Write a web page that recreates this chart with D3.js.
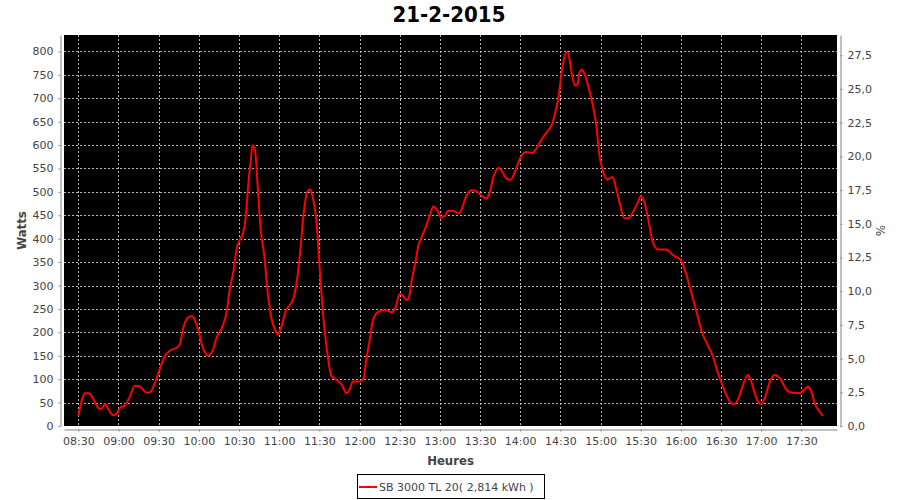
<!DOCTYPE html>
<html>
<head>
<meta charset="utf-8">
<script src="https://cdn.jsdelivr.net/npm/d3@7"></script>
<style>
  body { margin: 0; background: #fff; }
  text { font-family: "DejaVu Sans", sans-serif; }
  .cond { font-family: "DejaVu Sans Condensed", "DejaVu Sans", sans-serif; font-stretch: condensed; }
</style>
</head>
<body>
<div id="chart"></div>
<script>
var chartTitle = "21-2-2015";
var seriesName = "SB 3000 TL 20( 2,814 kWh )";
var times = ["08:30","08:33","08:35","08:38","08:41","08:45","08:47","08:50","08:52","08:56",
	"08:59","09:01","09:05","09:09","09:12","09:16","09:21","09:24","09:27","09:31",
	"09:35","09:39","09:44","09:46","09:48","09:52","09:55","09:57","10:00","10:02",
	"10:05","10:07","10:11","10:13","10:17","10:21","10:23","10:26","10:28","10:31",
	"10:33","10:35","10:37","10:39","10:40","10:42","10:44","10:46","10:49","10:51",
	"10:54","10:57","10:59","11:02","11:05","11:08","11:11","11:14","11:16","11:18",
	"11:21","11:23","11:25","11:28","11:30","11:33","11:36","11:39","11:43","11:47",
	"11:50","11:53","11:55","12:00","12:03","12:05","12:08","12:10","12:13","12:17",
	"12:20","12:24","12:27","12:30","12:33","12:35","12:37","12:39","12:42","12:44",
	"12:47","12:50","12:53","12:55","12:58","13:01","13:04","13:06","13:10","13:14",
	"13:16","13:19","13:23","13:26","13:30","13:34","13:37","13:40","13:44","13:46",
	"13:50","13:53","13:56","14:00","14:04","14:09","14:12","14:16","14:20","14:24",
	"14:26","14:29","14:31","14:33","14:35","14:37","14:39","14:41","14:43","14:44",
	"14:46","14:48","14:51","14:54","14:57","14:59","15:02","15:05","15:09","15:12",
	"15:15","15:18","15:21","15:25","15:28","15:30","15:33","15:36","15:39","15:43",
	"15:49","15:54","16:00","16:03","16:08","16:12","16:16","16:20","16:24","16:27",
	"16:30","16:34","16:38","16:40","16:43","16:46","16:50","16:53","16:57","17:00",
	"17:03","17:06","17:10","17:14","17:19","17:23","17:29","17:32","17:35","17:37",
	"17:40","17:43","17:46"];
var watts = [21,59,70,70,59,38,36,47,38,23,
	28,38,45,66,86,84,71,73,91,123,
	151,162,168,176,205,232,235,226,201,176,
	155,150,166,187,208,247,290,333,375,400,
	411,446,518,574,599,589,510,425,361,297,
	233,205,196,215,247,258,276,326,382,446,
	500,505,489,432,347,233,155,107,98,87,
	70,80,95,95,102,141,190,226,242,247,
	247,243,254,282,276,269,276,311,354,386,
	407,429,454,469,461,445,450,459,459,454,
	461,486,503,503,495,486,496,532,551,546,
	528,526,543,572,585,583,592,612,628,646,
	667,710,756,788,800,781,745,727,732,752,
	761,752,724,688,639,582,543,526,532,503,
	468,443,444,461,478,491,475,436,393,377,
	377,365,354,333,283,240,198,173,148,119,
	95,66,48,47,59,84,109,91,55,47,
	62,91,109,102,77,71,70,77,84,77,
	48,33,21];
var wattTicks = d3.range(0, 801, 50);
var pctTicks = d3.range(0, 27.6, 2.5);
var timeStart = "08:19:18", timeEnd = "17:56:36";
var wattMax = 835, pctMax = 29.0;

var svgW = 900, svgH = 500;
var Plot = {left: 64, right: 837, top: 35, bottom: 426};

var parseTime = d3.timeParse("%H:%M");
var parseTimeS = d3.timeParse("%H:%M:%S");
var data = times.map(function(t, i) { return {time: parseTime(t), watt: watts[i]}; });

var svg = d3.select("#chart").append("svg")
	.attr("width", svgW)
	.attr("height", svgH);

var xScale = d3.scaleTime()
	.domain([parseTimeS(timeStart), parseTimeS(timeEnd)])
	.range([Plot.left, Plot.right]);
var yScale = d3.scaleLinear().domain([0, wattMax]).range([Plot.bottom, Plot.top]);
var yPct = d3.scaleLinear().domain([0, pctMax]).range([Plot.bottom, Plot.top]);

var comma = d3.formatLocale({decimal: ",", thousands: ".", grouping: [3], currency: ["", "€"]});

// black data area
svg.append("rect")
	.attr("x", Plot.left).attr("y", Plot.top)
	.attr("width", Plot.right - Plot.left)
	.attr("height", Plot.bottom - Plot.top)
	.attr("fill", "#000");

// gridlines
var xTicks = d3.timeMinute.every(30).range(parseTime("08:30"), parseTime("17:31"));
svg.append("g").selectAll("line")
	.data(xTicks).enter().append("line")
	.attr("x1", function(d) { return Math.round(xScale(d)) + 0.5; })
	.attr("x2", function(d) { return Math.round(xScale(d)) + 0.5; })
	.attr("y1", Plot.top).attr("y2", Plot.bottom)
	.attr("stroke", "#b8b8b8").attr("stroke-dasharray", "2,2");
svg.append("g").selectAll("line")
	.data(wattTicks.slice(1)).enter().append("line")
	.attr("y1", function(d) { return Math.round(yScale(d)) + 0.5; })
	.attr("y2", function(d) { return Math.round(yScale(d)) + 0.5; })
	.attr("x1", Plot.left).attr("x2", Plot.right)
	.attr("stroke", "#b8b8b8").attr("stroke-dasharray", "2,2");

// the series
var line = d3.line()
	.x(function(d) { return xScale(d.time); })
	.y(function(d) { return yScale(d.watt); })
	.curve(d3.curveMonotoneX);
svg.append("path")
	.datum(data)
	.attr("d", line)
	.attr("fill", "none")
	.attr("stroke", "#ff0000")
	.attr("stroke-width", 2)
	.attr("stroke-linejoin", "round");

// axes (offset a few pixels from the data area, like the original)
function styleAxis(g) {
	g.select(".domain").attr("stroke", "#808080");
	g.selectAll(".tick line").attr("stroke", "#808080");
	g.selectAll(".tick text").attr("fill", "#444").style("font-size", "11px")
		.style("font-family", "'DejaVu Sans', sans-serif");
}

var leftAxis = svg.append("g")
	.attr("transform", "translate(" + (Plot.left - 3.5) + ",0)")
	.call(d3.axisLeft(yScale).tickValues(wattTicks).tickSizeInner(2).tickSizeOuter(0).tickPadding(5))
	.call(styleAxis);

svg.append("g")
	.attr("transform", "translate(" + (Plot.right + 3.5) + ",0)")
	.call(d3.axisRight(yPct).tickValues(pctTicks).tickFormat(comma.format(".1f"))
		.tickSizeInner(2).tickSizeOuter(0).tickPadding(5))
	.call(styleAxis);

svg.append("g")
	.attr("transform", "translate(0," + (Plot.bottom + 3.5) + ")")
	.call(d3.axisBottom(xScale).tickValues(xTicks).tickFormat(d3.timeFormat("%H:%M"))
		.tickSizeInner(2).tickSizeOuter(0).tickPadding(6))
	.call(styleAxis);

// titles
svg.append("text")
	.attr("class", "cond")
	.attr("x", 449).attr("y", 22)
	.attr("text-anchor", "middle")
	.style("font-size", "22px").style("font-weight", "bold")
	.attr("fill", "#000")
	.text(chartTitle);

svg.append("text")
	.attr("class", "cond")
	.attr("transform", "translate(26," + ((Plot.top + Plot.bottom) / 2) + ") rotate(-90)")
	.attr("text-anchor", "middle")
	.style("font-size", "13px").style("font-weight", "bold")
	.attr("fill", "#444")
	.text("Watts");

svg.append("text")
	.attr("class", "cond")
	.attr("x", (Plot.left + Plot.right) / 2).attr("y", 465)
	.attr("text-anchor", "middle")
	.style("font-size", "13px").style("font-weight", "bold")
	.attr("fill", "#444")
	.text("Heures");

svg.append("text")
	.attr("class", "cond")
	.attr("transform", "translate(876," + ((Plot.top + Plot.bottom) / 2) + ") rotate(90)")
	.attr("text-anchor", "middle")
	.style("font-size", "13px")
	.attr("fill", "#444")
	.text("%");

// legend
var legend = svg.append("g");
legend.append("rect")
	.attr("x", 357.5).attr("y", 474.5)
	.attr("width", 187).attr("height", 24)
	.attr("fill", "#fff").attr("stroke", "#000");
legend.append("line")
	.attr("x1", 359).attr("x2", 377).attr("y1", 487).attr("y2", 487)
	.attr("stroke", "#ff0000").attr("stroke-width", 2);
legend.append("rect")
	.attr("x", 367).attr("y", 486).attr("width", 2).attr("height", 2)
	.attr("fill", "#b00000");
legend.append("text")
	.attr("x", 379).attr("y", 491)
	.style("font-size", "11px")
	.attr("fill", "#444")
	.text(seriesName);
</script>
</body>
</html>
